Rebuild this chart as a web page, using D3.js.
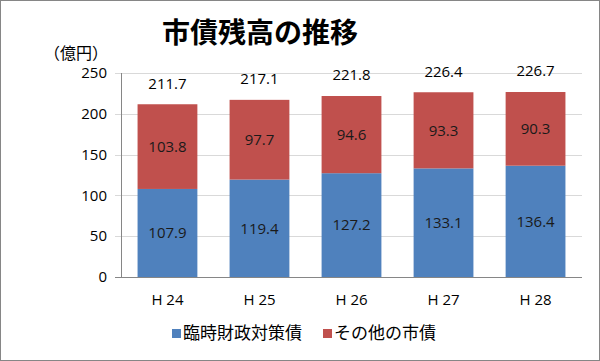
<!DOCTYPE html>
<html>
<head>
<meta charset="utf-8">
<script src="https://cdn.jsdelivr.net/npm/d3@7"></script>
<style>
  body { margin: 0; background: #fff; }
  svg { font-family: "Open Sans", "Noto Sans CJK JP", sans-serif; }
  .jp { font-family: "Noto Sans CJK JP", sans-serif; }
</style>
</head>
<body>
<svg class="chart"></svg>
<script>
const years = ["H 24", "H 25", "H 26", "H 27", "H 28"];
const rinji = [107.9, 119.4, 127.2, 133.1, 136.4];
const sonota = [103.8, 97.7, 94.6, 93.3, 90.3];
const totals = [211.7, 217.1, 221.8, 226.4, 226.7];
const yTicks = [0, 50, 100, 150, 200, 250];
const seriesNames = ["臨時財政対策債", "その他の市債"];
const colors = ["#4F81BD", "#C0504D"];

const width = 600, height = 361;
const margin = {top: 73, right: 18, bottom: 84, left: 121};

const svg = d3.select(".chart")
  .attr("width", width)
  .attr("height", height);

svg.append("rect")
  .attr("x", 0.5).attr("y", 0.5)
  .attr("width", width - 1).attr("height", height - 1)
  .attr("fill", "#fff")
  .attr("stroke", "#868686");

svg.append("text")
  .attr("class", "jp")
  .attr("x", 260)
  .attr("y", 43)
  .attr("text-anchor", "middle")
  .attr("font-size", 28)
  .attr("font-weight", "bold")
  .text("市債残高の推移");

svg.append("text")
  .attr("class", "jp")
  .attr("x", 76)
  .attr("y", 59)
  .attr("text-anchor", "middle")
  .attr("font-size", 16)
  .text("（億円）");

const graph = svg.append("g")
  .attr("transform", "translate(" + margin.left + "," + margin.top + ")");

const w = width - margin.left - margin.right
  , h = height - margin.top - margin.bottom;

const xScale = d3.scaleBand()
  .domain(years)
  .range([0, w])
  .paddingInner(0.35)
  .paddingOuter(0.18);

const yScale = d3.scaleLinear()
  .domain([0, 250])
  .range([h, 0]);

// gridlines
graph.append("g")
  .selectAll("line")
  .data(yTicks)
  .enter().append("line")
  .attr("x1", -6).attr("x2", w)
  .attr("y1", d => Math.round(yScale(d)) + 0.5)
  .attr("y2", d => Math.round(yScale(d)) + 0.5)
  .attr("stroke", d => d === 0 ? "#868686" : "#d9d9d9");

graph.append("line")
  .attr("x1", 0.5).attr("x2", 0.5)
  .attr("y1", 0).attr("y2", h)
  .attr("stroke", "#868686");

graph.append("g")
  .selectAll("text")
  .data(yTicks)
  .enter().append("text")
  .attr("x", -14)
  .attr("y", d => yScale(d))
  .attr("dy", "0.35em")
  .attr("text-anchor", "end")
  .attr("font-size", 15)
  .text(d => d);

const stack = years.map((y, i) => [
  {key: 0, y0: 0, y1: rinji[i], v: rinji[i], year: y},
  {key: 1, y0: rinji[i], y1: rinji[i] + sonota[i], v: sonota[i], year: y}
]).flat();

graph.selectAll("rect.bar")
  .data(stack)
  .enter().append("rect")
  .attr("class", "bar")
  .attr("x", d => xScale(d.year))
  .attr("width", xScale.bandwidth())
  .attr("y", d => yScale(d.y1))
  .attr("height", d => yScale(d.y0) - yScale(d.y1))
  .attr("fill", d => colors[d.key]);

graph.selectAll("text.val")
  .data(stack)
  .enter().append("text")
  .attr("class", "val")
  .attr("x", d => xScale(d.year) + xScale.bandwidth() / 2)
  .attr("y", d => yScale((d.y0 + d.y1) / 2))
  .attr("dy", "0.35em")
  .attr("text-anchor", "middle")
  .attr("font-size", 15)
  .attr("fill", "#1a1a1a")
  .text(d => d.v.toFixed(1));

graph.selectAll("text.total")
  .data(totals)
  .enter().append("text")
  .attr("class", "total")
  .attr("x", (d, i) => xScale(years[i]) + xScale.bandwidth() / 2)
  .attr("y", d => yScale(d) - 21)
  .attr("dy", "0.35em")
  .attr("text-anchor", "middle")
  .attr("font-size", 15)
  .text(d => d.toFixed(1));

graph.selectAll("text.xlab")
  .data(years)
  .enter().append("text")
  .attr("class", "xlab")
  .attr("x", d => xScale(d) + xScale.bandwidth() / 2)
  .attr("y", h + 23)
  .attr("dy", "0.35em")
  .attr("text-anchor", "middle")
  .attr("font-size", 15)
  .text(d => d);

const legend = svg.append("g")
  .attr("class", "jp");
const legendX = [172, 323];
seriesNames.forEach((name, i) => {
  legend.append("rect")
    .attr("x", legendX[i]).attr("y", 329)
    .attr("width", 9).attr("height", 9)
    .attr("fill", colors[i]);
  legend.append("text")
    .attr("x", legendX[i] + 11)
    .attr("y", 333)
    .attr("dy", "0.35em")
    .attr("font-size", 17)
    .text(name);
});
</script>
</body>
</html>
